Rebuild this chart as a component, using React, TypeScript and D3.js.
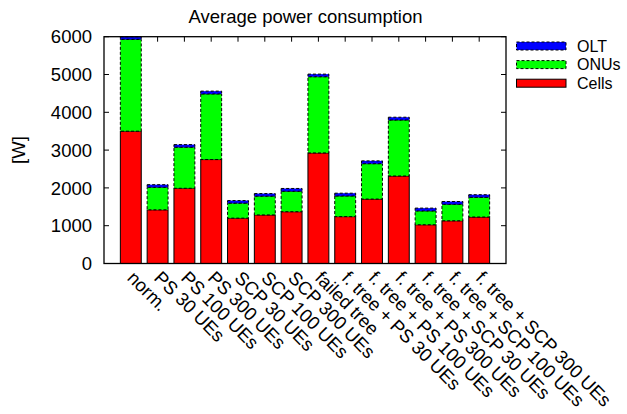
import React from "react";
import * as d3 from "d3";

// Scenario names along the x axis
const categories: string[] = [
  "norm.",
  "PS 30 UEs",
  "PS 100 UEs",
  "PS 300 UEs",
  "SCP 30 UEs",
  "SCP 100 UEs",
  "SCP 300 UEs",
  "failed tree",
  "f. tree + PS 30 UEs",
  "f. tree + PS 100 UEs",
  "f. tree + PS 300 UEs",
  "f. tree + SCP 30 UEs",
  "f. tree + SCP 100 UEs",
  "f. tree + SCP 300 UEs",
];

// Power per component [W], stacked bottom to top: Cells, ONUs, OLT
const cells: number[] = [3500, 1420, 1990, 2750, 1200, 1285, 1370, 2925, 1240, 1705, 2315, 1025, 1130, 1230];
const onus: number[] = [2430, 595, 1085, 1735, 395, 495, 540, 2015, 545, 935, 1480, 365, 435, 520];
const olt: number[] = [70, 70, 70, 75, 70, 70, 75, 70, 75, 75, 75, 75, 75, 70];

const yTicks: number[] = [0, 1000, 2000, 3000, 4000, 5000, 6000];

const seriesNames = ["Cells", "ONUs", "OLT"];
const seriesColors: Record<string, string> = { Cells: "#ff0000", ONUs: "#00ff00", OLT: "#0000ff" };
const seriesDashed: Record<string, boolean> = { Cells: false, ONUs: true, OLT: true };

const W = 627;
const H = 414;
const plot = { left: 104, right: 506, top: 36.7, bottom: 263.5 };
const FONT = "'Liberation Sans', Arial, Helvetica, sans-serif";
const FS = 18.5;
const LEGEND_FS = 16;

export default function App() {
  const x = d3.scaleLinear().domain([-1, categories.length]).range([plot.left, plot.right]);
  const y = d3.scaleLinear().domain([0, 6000]).range([plot.bottom, plot.top]);
  const step = x(1) - x(0);
  const barW = step * 0.78;

  const rows = categories.map((c, i) => ({ c, Cells: cells[i], ONUs: onus[i], OLT: olt[i] }));
  const stacked = d3.stack<any>().keys(seriesNames)(rows);

  const legendRows = ["OLT", "ONUs", "Cells"];

  return (
    <svg
      width={W}
      height={H}
      style={{ position: "absolute", left: 0, top: 0, background: "#fff" }}
      fontFamily={FONT}
    >
      {/* title */}
      <text x={305.5} y={23} fontSize={FS} textAnchor="middle">
        Average power consumption
      </text>

      {/* y axis label */}
      <text
        transform={`translate(25,${(plot.top + plot.bottom) / 2}) rotate(-90)`}
        fontSize={FS}
        textAnchor="middle"
      >
        [W]
      </text>

      {/* y ticks, both sides, pointing inward */}
      {yTicks.map((t) => (
        <g key={t}>
          <line x1={plot.left} x2={plot.left + 5} y1={y(t)} y2={y(t)} stroke="#000" strokeWidth={1} />
          <line x1={plot.right} x2={plot.right - 5} y1={y(t)} y2={y(t)} stroke="#000" strokeWidth={1} />
          <text x={92} y={y(t)} dy="0.36em" fontSize={FS} textAnchor="end">
            {t}
          </text>
        </g>
      ))}

      {/* x ticks at bar centres, top and bottom */}
      {categories.map((c, i) => (
        <g key={c}>
          <line x1={x(i)} x2={x(i)} y1={plot.top} y2={plot.top + 5} stroke="#000" strokeWidth={1} />
          <line x1={x(i)} x2={x(i)} y1={plot.bottom} y2={plot.bottom - 5} stroke="#000" strokeWidth={1} />
        </g>
      ))}

      {/* stacked bars */}
      {stacked.map((layer) => (
        <g key={layer.key}>
          {layer.map((d, i) => (
            <rect
              key={i}
              x={x(i) - barW / 2}
              y={y(d[1])}
              width={barW}
              height={y(d[0]) - y(d[1])}
              fill={seriesColors[layer.key]}
              stroke="#000"
              strokeWidth={1}
              strokeDasharray={seriesDashed[layer.key] ? "3,2" : undefined}
            />
          ))}
        </g>
      ))}

      {/* frame */}
      <rect
        x={plot.left}
        y={plot.top}
        width={plot.right - plot.left}
        height={plot.bottom - plot.top}
        fill="none"
        stroke="#000"
        strokeWidth={1.3}
      />

      {/* category labels */}
      {categories.map((c, i) => (
        <text
          key={c}
          transform={`translate(${x(i) - 4.5},279) rotate(45)`}
          fontSize={FS}
          textAnchor="start"
        >
          {c}
        </text>
      ))}

      {/* legend */}
      {legendRows.map((k, j) => {
        const cy = 46 + j * 18.6;
        return (
          <g key={k}>
            <rect
              x={516.5}
              y={cy - 4}
              width={49.5}
              height={8}
              fill={seriesColors[k]}
              stroke="#000"
              strokeWidth={1}
              strokeDasharray={seriesDashed[k] ? "3,2" : undefined}
            />
            <text x={577} y={cy} dy="0.36em" fontSize={LEGEND_FS}>
              {k}
            </text>
          </g>
        );
      })}
    </svg>
  );
}
